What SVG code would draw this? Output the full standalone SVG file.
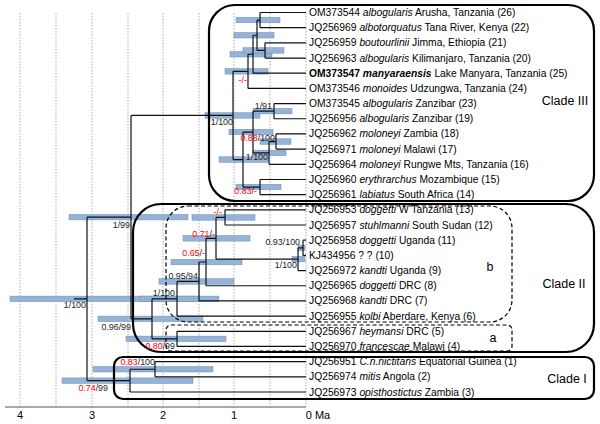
<svg xmlns="http://www.w3.org/2000/svg" width="600" height="424" viewBox="0 0 600 424">
<style>
.grid{stroke:#999;stroke-width:0.8;stroke-dasharray:1.5 1.5;fill:none}
.bar{fill:#95b3d7;stroke:#6d8db5;stroke-width:0.5}
.br{stroke:#111;stroke-width:1.2;fill:none}
.clade{fill:none;stroke:#000;stroke-width:2.2}
.sub{fill:none;stroke:#000;stroke-width:1.2;stroke-dasharray:4 2.5}
text{font-family:"Liberation Sans",Arial,sans-serif;fill:#000}
.leaf{font-size:10.3px}
.it{font-style:italic}
.bd{font-weight:bold}
.nl{font-size:8.9px;text-anchor:end;fill:#222}
.r{fill:#ff0000}
.cl{font-size:12.5px;text-anchor:middle}
.ax{font-size:11px;text-anchor:middle}
</style>
<rect width="600" height="424" fill="#fff"/>
<g id="grid">
<path class="grid" d="M20 13V407M56 13V407M92 13V407M128 13V407M163 13V407M199 13V407M234 13V407M270 13V407M306 13V407"/>
</g>
<g id="axis">
<path d="M5 407H306" stroke="#555" stroke-width="1" fill="none"/>
<text class="ax" x="20" y="419">4</text>
<text class="ax" x="92" y="419">3</text>
<text class="ax" x="163" y="419">2</text>
<text class="ax" x="234" y="419">1</text>
<text class="ax" x="318" y="419">0 Ma</text>
</g>
<g id="hpd-bars">
<rect class="bar" x="10" y="296.1" width="190" height="5.5"/>
<rect class="bar" x="69" y="214.4" width="119" height="5.5"/>
<rect class="bar" x="205" y="112.7" width="55" height="5.5"/>
<rect class="bar" x="225" y="68.6" width="43" height="5.5"/>
<rect class="bar" x="230" y="51.5" width="42" height="5.5"/>
<rect class="bar" x="234" y="32.5" width="40" height="5.5"/>
<rect class="bar" x="236" y="17.3" width="44" height="5.5"/>
<rect class="bar" x="243" y="47.7" width="41" height="5.5"/>
<rect class="bar" x="253" y="108.4" width="39" height="5.5"/>
<rect class="bar" x="229" y="129.3" width="44" height="5.5"/>
<rect class="bar" x="260" y="138.8" width="31" height="5.5"/>
<rect class="bar" x="253" y="150.2" width="33" height="5.5"/>
<rect class="bar" x="219" y="156.8" width="49" height="5.5"/>
<rect class="bar" x="236" y="184.3" width="45" height="5.5"/>
<rect class="bar" x="98" y="316.1" width="105" height="5.5"/>
<rect class="bar" x="140" y="296.1" width="79" height="5.5"/>
<rect class="bar" x="159" y="278.7" width="75" height="5.5"/>
<rect class="bar" x="171" y="259.3" width="71" height="5.5"/>
<rect class="bar" x="183" y="235.6" width="67" height="5.5"/>
<rect class="bar" x="192" y="214.7" width="63" height="5.5"/>
<rect class="bar" x="298" y="245.1" width="7" height="5.5"/>
<rect class="bar" x="292" y="256.4" width="13" height="5.5"/>
<rect class="bar" x="126" y="336.1" width="100" height="5.5"/>
<rect class="bar" x="62" y="377.9" width="131" height="5.5"/>
<rect class="bar" x="93" y="366.5" width="120" height="5.5"/>
</g>
<g id="connectors">
<path class="br" d="
M74 298.88H87M87 217.14V380.62
M87 217.14H131M131 115.44V318.83
M131 115.44H233M233 71.32V159.56
M233 71.32H248M248 54.25V88.4M248 88.4H306
M248 54.25H253M253 35.27V73.22M253 73.22H306
M253 35.27H257M257 20.09V50.45
M257 20.09H260M260 12.5V27.68M260 12.5H306M260 27.68H306
M257 50.45H265M265 42.86V58.04M265 42.86H306M265 58.04H306
M233 159.56H243M243 132.04V187.07
M243 132.04H253M253 111.17V152.92
M253 111.17H274M274 103.58V118.76M274 103.58H306M274 118.76H306
M253 152.92H269M269 141.53V164.3M269 164.3H306
M269 141.53H276M276 133.94V149.12M276 133.94H306M276 149.12H306
M243 187.07H260M260 179.48V194.66M260 179.48H306M260 194.66H306
M131 318.83H152M152 298.79V338.87
M152 298.79H177M177 281.47V316.1M177 316.1H306
M177 281.47H199M199 262.02V300.92M199 300.92H306
M199 262.02H206M206 238.3V285.74M206 285.74H306
M206 238.3H216M216 217.43V259.18
M216 217.43H225M225 209.84V225.02M225 209.84H306M225 225.02H306
M216 259.18H298M298 247.79V270.56M298 270.56H306
M298 247.79H303M303 240.2V255.38M303 240.2H306M303 255.38H306
M152 338.87H177M177 331.28V346.46M177 331.28H306M177 346.46H306
M87 380.62H130M130 369.23V392M130 392H306
M130 369.23H155M155 361.64V376.82M155 361.64H306M155 376.82H306"/>
</g>
<g id="clade-boxes">
<rect id="clade3-box" class="clade" x="209" y="5" width="385" height="196" rx="26"/>
<rect id="clade2-box" class="clade" x="133" y="204" width="461" height="148" rx="28"/>
<rect id="clade1-box" class="clade" x="114" y="357" width="480" height="42" rx="9"/>
<rect id="sub-b-box" class="sub" x="166" y="206" width="346" height="116" rx="22"/>
<rect id="sub-a-box" class="sub" x="166" y="325" width="346" height="26" rx="5"/>
</g>
<g id="node-labels">
<text class="nl" x="86" y="308">1/100</text>
<text class="nl" x="130" y="228">1/99</text>
<text class="nl" x="233" y="125">1/100</text>
<text class="nl r" x="247" y="83">-/-</text>
<text class="nl" x="272" y="109">1/91</text>
<text class="nl" x="275" y="141"><tspan class="r">0.88</tspan>/100</text>
<text class="nl" x="268" y="160">1/100</text>
<text class="nl" x="257" y="194"><tspan class="r">0.83</tspan>/<tspan class="r">-</tspan></text>
<text class="nl r" x="222" y="215">-/-</text>
<text class="nl" x="215" y="237"><tspan class="r">0.71</tspan>/<tspan class="r">-</tspan></text>
<text class="nl" x="300" y="245">0.93/100</text>
<text class="nl" x="205" y="256"><tspan class="r">0.65</tspan>/<tspan class="r">-</tspan></text>
<text class="nl" x="297" y="268">1/100</text>
<text class="nl" x="198" y="279">0.95/94</text>
<text class="nl" x="175" y="296">1/100</text>
<text class="nl" x="131" y="330">0.96/99</text>
<text class="nl" x="175" y="349"><tspan class="r">0.80</tspan>/99</text>
<text class="nl" x="155" y="365"><tspan class="r">0.83</tspan>/100</text>
<text class="nl" x="108" y="391"><tspan class="r">0.74</tspan>/99</text>
</g>
<g id="taxa">
<g id="t26"><text class="leaf" x="309" y="16">OM373544 <tspan class="it">albogularis</tspan> Arusha, Tanzania (26)</text></g>
<g id="t22"><text class="leaf" x="309" y="31.2">JQ256969 <tspan class="it">albotorquatus</tspan> Tana River, Kenya (22)</text></g>
<g id="t21"><text class="leaf" x="309" y="46.4">JQ256959 <tspan class="it">boutourlinii</tspan> Jimma, Ethiopia (21)</text></g>
<g id="t20"><text class="leaf" x="309" y="61.5">JQ256963 <tspan class="it">albogularis</tspan> Kilimanjaro, Tanzania (20)</text></g>
<g id="t25"><text class="leaf" x="309" y="76.7"><tspan class="bd">OM373547 </tspan><tspan class="bd it">manyaraensis</tspan> Lake Manyara, Tanzania (25)</text></g>
<g id="t24"><text class="leaf" x="309" y="91.9">OM373546 <tspan class="it">monoides</tspan> Udzungwa, Tanzania (24)</text></g>
<g id="t23"><text class="leaf" x="309" y="107.1">OM373545 <tspan class="it">albogularis</tspan> Zanzibar (23)</text></g>
<g id="t19"><text class="leaf" x="309" y="122.3">JQ256956 <tspan class="it">albogularis</tspan> Zanzibar (19)</text></g>
<g id="t18"><text class="leaf" x="309" y="137.4">JQ256962 <tspan class="it">moloneyi</tspan> Zambia (18)</text></g>
<g id="t17"><text class="leaf" x="309" y="152.6">JQ256971 <tspan class="it">moloneyi</tspan> Malawi (17)</text></g>
<g id="t16"><text class="leaf" x="309" y="167.8">JQ256964 <tspan class="it">moloneyi</tspan> Rungwe Mts, Tanzania (16)</text></g>
<g id="t15"><text class="leaf" x="309" y="183">JQ256960 <tspan class="it">erythrarchus</tspan> Mozambique (15)</text></g>
<g id="t14"><text class="leaf" x="309" y="198.2">JQ256961 <tspan class="it">labiatus</tspan> South Africa (14)</text></g>
<g id="t13"><text class="leaf" x="309" y="213.3">JQ256953 <tspan class="it">doggetti</tspan> W Tanzania (13)</text></g>
<g id="t12"><text class="leaf" x="309" y="228.5">JQ256957 <tspan class="it">stuhlmanni</tspan> South Sudan (12)</text></g>
<g id="t11"><text class="leaf" x="309" y="243.7">JQ256958 <tspan class="it">doggetti</tspan> Uganda (11)</text></g>
<g id="t10"><text class="leaf" x="309" y="258.9">KJ434956 ? ? (10)</text></g>
<g id="t9"><text class="leaf" x="309" y="274.1">JQ256972 <tspan class="it">kandti</tspan> Uganda (9)</text></g>
<g id="t8"><text class="leaf" x="309" y="289.2">JQ256965 <tspan class="it">doggetti</tspan> DRC (8)</text></g>
<g id="t7"><text class="leaf" x="309" y="304.4">JQ256968 <tspan class="it">kandti</tspan> DRC (7)</text></g>
<g id="t6"><text class="leaf" x="309" y="319.6">JQ256955 <tspan class="it">kolbi</tspan> Aberdare, Kenya (6)</text></g>
<g id="t5"><text class="leaf" x="309" y="334.8">JQ256967 <tspan class="it">heymansi</tspan> DRC (5)</text></g>
<g id="t4"><text class="leaf" x="309" y="350">JQ256970 <tspan class="it">francescae</tspan> Malawi (4)</text></g>
<g id="t1"><text class="leaf" x="309" y="365.1">JQ256951 <tspan class="it">C.n.nictitans</tspan> Equatorial Guinea (1)</text></g>
<g id="t2"><text class="leaf" x="309" y="380.3">JQ256974 <tspan class="it">mitis</tspan> Angola (2)</text></g>
<g id="t3"><text class="leaf" x="309" y="395.5">JQ256973 <tspan class="it">opisthostictus</tspan> Zambia (3)</text></g>
</g>
<g id="clade-labels">
<text class="cl" x="565" y="104.5">Clade III</text>
<text class="cl" x="564" y="287.5">Clade II</text>
<text class="cl" x="567" y="382.5">Clade I</text>
<text class="cl" x="490" y="270.5">b</text>
<text class="cl" x="493" y="341.5">a</text>
</g>
</svg>
